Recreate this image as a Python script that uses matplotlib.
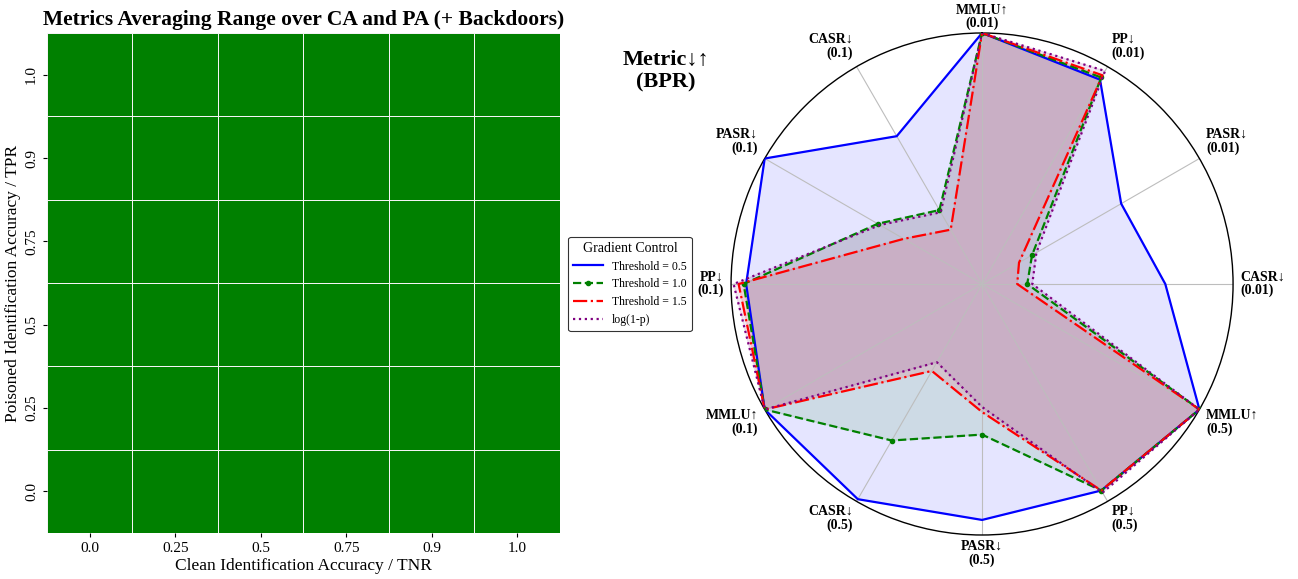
import numpy as np
import matplotlib
matplotlib.use("Agg")
import matplotlib.pyplot as plt
from matplotlib.colors import ListedColormap

plt.rcParams['font.family'] = ['Liberation Serif', 'DejaVu Serif']

# ---------------- data ----------------
tnr_labels = ['0.0', '0.25', '0.5', '0.75', '0.9', '1.0']
tpr_labels = ['0.0', '0.25', '0.5', '0.75', '0.9', '1.0']
# 1 = range included (green) for every CA/PA cell
cell_values = np.ones((6, 6))

radar_labels = ['MMLU↑\n(0.01)', 'PP↓\n(0.01)', 'PASR↓\n(0.01)', 'CASR↓\n(0.01)',
                'MMLU↑\n(0.5)', 'PP↓\n(0.5)', 'PASR↓\n(0.5)', 'CASR↓\n(0.5)',
                'MMLU↑\n(0.1)', 'PP↓\n(0.1)', 'PASR↓\n(0.1)', 'CASR↓\n(0.1)']
series_names = ['Threshold = 0.5', 'Threshold = 1.0', 'Threshold = 1.5', 'log(1-p)']
thr_05 = [1.00, 0.94, 0.64, 0.73, 1.00, 0.95, 0.94, 0.99, 1.00, 0.94, 1.00, 0.68]
thr_10 = [1.00, 0.95, 0.23, 0.18, 1.00, 0.95, 0.60, 0.72, 1.00, 0.95, 0.48, 0.34]
thr_15 = [1.00, 0.96, 0.17, 0.14, 1.00, 0.95, 0.51, 0.40, 1.00, 0.97, 0.36, 0.25]
log1p = [1.00, 0.98, 0.25, 0.20, 1.00, 0.96, 0.49, 0.36, 1.00, 0.99, 0.47, 0.33]
series_values = [thr_05, thr_10, thr_15, log1p]
series_colors = ['blue', 'green', 'red', 'purple']
series_styles = ['-', '--', '-.', ':']
series_markers = [None, 'o', None, None]

# ---------------- figure ----------------
fig = plt.figure(figsize=(12.98, 5.79), dpi=100)

# Heatmap
ax = fig.add_axes([0.0362, 0.0794, 0.3952, 0.8636])
cmap = ListedColormap(['green'])
ax.pcolormesh(cell_values, cmap=cmap, edgecolors='#f4f4f4', linewidth=0.7, vmin=0, vmax=1)
ax.set_xlim(0, 6)
ax.set_ylim(0, 6)
ax.set_xticks(np.arange(6) + 0.5)
ax.set_xticklabels(tnr_labels, fontsize=11)
ax.set_yticks(np.arange(6) + 0.5)
ax.set_yticklabels(tpr_labels, fontsize=11, rotation=90, va='center')
ax.tick_params(length=3, width=0.8)
for s in ax.spines.values():
    s.set_visible(False)
ax.set_xlabel('Clean Identification Accuracy / TNR', fontsize=12.5, labelpad=2)
ax.set_ylabel('Poisoned Identification Accuracy / TPR', fontsize=12.5, labelpad=3)
ax.set_title('Metrics Averaging Range over CA and PA (+ Backdoors)', fontsize=15.5,
             fontweight='bold', pad=6)

# Radar
n = len(radar_labels)
angles = np.linspace(0, 2 * np.pi, n, endpoint=False)
pax = fig.add_axes([0.5632, 0.076, 0.3868, 0.867], projection='polar')
pax.set_theta_offset(np.pi / 2)
pax.set_theta_direction(-1)
pax.set_ylim(0, 1)
pax.set_yticks([])
pax.set_xticks(angles)
pax.set_xticklabels([])
pax.grid(False)
for a in angles:
    pax.plot([a, a], [0, 1], color='#bdbdbd', lw=0.8, zorder=2.5)
pax.spines['polar'].set_color('black')
pax.spines['polar'].set_linewidth(1.0)

ang_c = np.concatenate([angles, angles[:1]])
handles = []
for name, vals, c, ls, mk in zip(series_names, series_values, series_colors,
                                  series_styles, series_markers):
    v = np.concatenate([vals, vals[:1]])
    h, = pax.plot(ang_c, v, color=c, ls=ls, lw=1.6, marker=mk, markersize=3,
                  label=name, zorder=3)
    pax.fill(ang_c, v, color=c, alpha=0.1, zorder=2)
    handles.append(h)

# label placement: (ha, va, radius, dy offset in points)
label_pos = {
    0: ('center', 'bottom', 1.01, 0),
    30: ('left', 'bottom', 1.03, 0),
    60: ('left', 'bottom', 1.03, 0),
    90: ('left', 'center', 1.03, 0),
    120: ('left', 'top', 1.03, 3),
    150: ('left', 'top', 1.03, 2),
    180: ('center', 'top', 1.02, 0),
    210: ('right', 'top', 1.03, 2),
    240: ('right', 'top', 1.03, 3),
    270: ('right', 'center', 1.03, 0),
    300: ('right', 'bottom', 1.03, 0),
    330: ('right', 'bottom', 1.03, 0),
}
for a, lab in zip(angles, radar_labels):
    deg = int(round(np.degrees(a))) % 360
    ha, va, r, dy = label_pos[deg]
    pax.annotate(lab, xy=(a, r), xytext=(0, dy), textcoords='offset points',
                 ha=ha, va=va, multialignment=ha, fontsize=10,
                 fontweight='bold', linespacing=1.05, annotation_clip=False)

fig.text(0.513, 0.877, 'Metric↓↑\n(BPR)', ha='center', va='center', fontsize=16,
         fontweight='bold', linespacing=1.15)

leg = fig.legend(handles=handles, loc='center', bbox_to_anchor=(0.4854, 0.5095),
                 title='Gradient Control', fontsize=8.5, title_fontsize=10,
                 frameon=True, edgecolor='black', fancybox=True, handlelength=2.5)
leg.get_frame().set_linewidth(0.8)

fig.savefig('out.png', dpi=100)
